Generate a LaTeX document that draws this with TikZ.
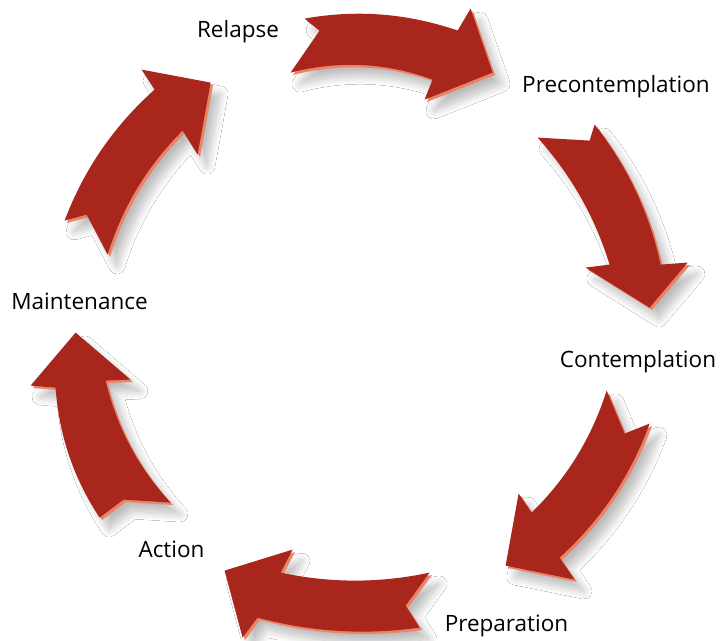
\documentclass[tikz,border=0pt]{standalone}
\usepackage{fontspec}
\setmainfont{Open Sans}
\usetikzlibrary{shadows.blur,calc}
\definecolor{arrred}{RGB}{168,38,28}
\definecolor{arrlight}{RGB}{234,132,104}
\tikzset{
  label text/.style={font=\fontsize{22.5}{27}\selectfont, text=black, inner sep=0pt, anchor=base},
  arrshadow/.style={blur shadow={shadow xshift=7pt, shadow yshift=-9pt, shadow blur radius=8pt, shadow opacity=26, shadow blur steps=14}}
}
\newcommand\qc[3]{.. controls ($(#1)!0.6667!(#2)$) and ($(#3)!0.6667!(#2)$) .. (#3)}
\newcommand\cyclearrow[1]{%
  \fill[arrlight, arrshadow] #1;
  \fill[arrred, shift={(-2.4,-2.4)}] #1;
}
\begin{document}
\begin{tikzpicture}[x=1pt,y=-1pt]
\fill[white] (0,0) rectangle (720,640);
\useasboundingbox (0,0) rectangle (720,640);
% arrow 1: Relapse -> Precontemplation
\cyclearrow{(307,21) -- (322,33) -- (293,75) \qc{293,75}{365.05,56.45}{435,82} -- (427,102) -- (495,75) -- (473,11) -- (460,33) \qc{460,33}{385,7.05}{307,21} -- cycle}
% arrow 2: Precontemplation -> Contemplation
\cyclearrow{(540,140) -- (592,143) -- (597,127) \qc{597,127}{646.2,189.35}{663,267} -- (690,265) -- (652,310) -- (588,270) -- (612,267) \qc{612,267}{590,195.5}{540,140} -- cycle}
% arrow 3: Contemplation -> Preparation
\cyclearrow{(609,393) -- (627,436) -- (652,426) \qc{652,426}{623.5,504.1}{562,560} -- (577,582) -- (508,568) -- (521,496) -- (534,515) \qc{534,515}{586.8,463.5}{609,393} -- cycle}
% arrow 4: Preparation -> Action
\cyclearrow{(432,575) -- (408,608) -- (422,630) \qc{422,630}{340,641.5}{260,620} -- (245,640) -- (227,573) -- (295,552) -- (283,575) \qc{283,575}{357.5,591}{432,575} -- cycle}
% arrow 5: Action -> Maintenance
\cyclearrow{(173,505) -- (126,502) -- (102,520) \qc{102,520}{62.9,460.9}{58,390} -- (33,388) -- (78,335) -- (133,382) -- (108,383) \qc{108,383}{124.6,452.6}{173,505} -- cycle}
% arrow 6: Maintenance -> Relapse
\cyclearrow{(67,223) -- (89,217) -- (110,257) \qc{110,257}{132.1,185.7}{185,133} -- (200,157) -- (213,85) -- (144,72) -- (157,92) \qc{157,92}{96,146.4}{67,223} -- cycle}
% labels
\node[label text] (relapse) at (238,37) {Relapse};
\node[label text] (precon) at (616,92) {Precontemplation};
\node[label text] (contem) at (638,367) {Contemplation};
\node[label text] (prep) at (506.5,631) {Preparation};
\node[label text] (action) at (171.5,557) {Action};
\node[label text] (maint) at (79.5,309) {Maintenance};
\end{tikzpicture}
\end{document}
